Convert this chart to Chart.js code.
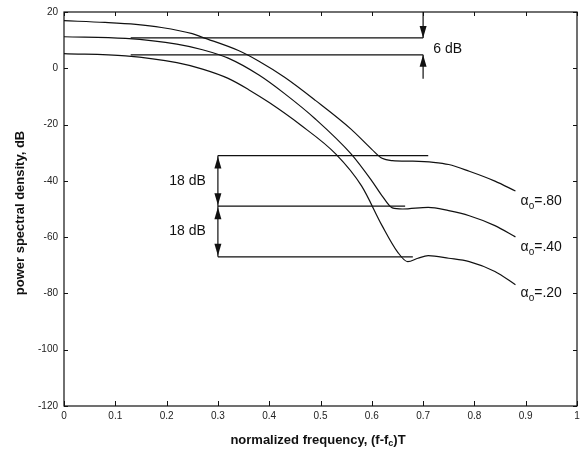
<!DOCTYPE html>
<html>
<head>
<meta charset="utf-8">
<script src="https://cdn.jsdelivr.net/npm/chart.js@4"></script>
<style>
html, body { margin: 0; padding: 0; background: #fff; }
</style>
</head>
<body>
<canvas id="grafico-psd" width="585" height="459"></canvas>
<script>
// DADOS
var freqA80 = [0, 0.08, 0.14, 0.19, 0.25, 0.27, 0.34, 0.38, 0.43, 0.49, 0.56, 0.60, 0.62, 0.64, 0.68, 0.72, 0.75, 0.79, 0.84, 0.88];
var psdA80  = [16.9, 16.3, 15.6, 14.5, 12.3, 11.0, 6.3, 2.5, -3.2, -11.4, -21.7, -28.8, -32.0, -32.8, -33.0, -33.4, -34.2, -36.6, -40.1, -43.6];

var freqA40 = [0, 0.12, 0.22, 0.27, 0.32, 0.38, 0.43, 0.49, 0.56, 0.60, 0.62, 0.64, 0.66, 0.71, 0.75, 0.79, 0.84, 0.88];
var psdA40  = [11.2, 10.6, 8.6, 6.6, 3.6, -2.4, -9.0, -18.0, -30.5, -40.0, -45.3, -49.6, -50.0, -49.4, -50.6, -52.4, -55.9, -59.9];

var freqA20 = [0, 0.12, 0.22, 0.27, 0.32, 0.36, 0.40, 0.46, 0.53, 0.58, 0.62, 0.65, 0.67, 0.69, 0.71, 0.75, 0.79, 0.84, 0.88];
var psdA20  = [5.2, 4.4, 2.0, -0.3, -3.6, -7.6, -12.2, -20.0, -30.5, -41.8, -55.9, -65.2, -68.7, -67.5, -66.6, -67.5, -68.7, -72.2, -76.9];

var xTicks = [0, 0.1, 0.2, 0.3, 0.4, 0.5, 0.6, 0.7, 0.8, 0.9, 1];
var xTickLabels = ['0', '0.1', '0.2', '0.3', '0.4', '0.5', '0.6', '0.7', '0.8', '0.9', '1'];
var yTicks = [20, 0, -20, -40, -60, -80, -100, -120];

// niveis de referencia (dB) e extensao (frequencia)
var nivel6dB = [10.8, 4.8];
var inicio6dB = 0.13, fim6dB = 0.70, seta6dBBase = -3.7;
var nivel18dB = [-31, -49, -67];
var inicio18dB = 0.30;
var fim18dB = [0.71, 0.665, 0.68];

var rotulosAlpha = ['=.80', '=.40', '=.20'];
var rotuloAlphaNivel = [-47.1, -63.5, -79.8];

function pontos(xs, ys) {
    return xs.map(function(x, i) { return { x: x, y: ys[i] }; });
}

function serie(label, xs, ys) {
    return {
        label: label,
        data: pontos(xs, ys),
        borderColor: '#111',
        borderWidth: 1.2,
        pointRadius: 0,
        fill: false,
        cubicInterpolationMode: 'monotone'
    };
}

function seta(ctx, x, yTip, dir) {
    // dir = 1 aponta para baixo, -1 para cima
    ctx.beginPath();
    ctx.moveTo(x, yTip);
    ctx.lineTo(x - 3.5, yTip - dir * 12);
    ctx.lineTo(x + 3.5, yTip - dir * 12);
    ctx.closePath();
    ctx.fill();
}

function textoAlpha(ctx, x, y, resto) {
    ctx.font = '14px "Liberation Sans", Arial, sans-serif';
    ctx.textAlign = 'left';
    ctx.textBaseline = 'middle';
    ctx.fillText('\u03B1', x, y);
    var w = ctx.measureText('\u03B1').width;
    ctx.font = '10px "Liberation Sans", Arial, sans-serif';
    ctx.fillText('o', x + w, y + 5);
    var w2 = ctx.measureText('o').width;
    ctx.font = '14px "Liberation Sans", Arial, sans-serif';
    ctx.fillText(resto, x + w + w2, y);
}

var anotacoes = {
    id: 'anotacoes',
    afterDatasetsDraw: function(chart) {
        var ctx = chart.ctx;
        var xs = chart.scales.x, ys = chart.scales.y;
        var a = chart.chartArea;
        ctx.save();
        ctx.strokeStyle = '#111';
        ctx.fillStyle = '#111';

        // moldura
        ctx.lineWidth = 1.2;
        ctx.strokeRect(a.left, a.top, a.right - a.left, a.bottom - a.top);

        // marcas internas
        ctx.lineWidth = 1;
        ctx.beginPath();
        xTicks.forEach(function(v) {
            var px = Math.round(xs.getPixelForValue(v)) + 0.5;
            ctx.moveTo(px, a.bottom); ctx.lineTo(px, a.bottom - 5);
            ctx.moveTo(px, a.top); ctx.lineTo(px, a.top + 4);
        });
        yTicks.forEach(function(v) {
            var py = Math.round(ys.getPixelForValue(v)) + 0.5;
            ctx.moveTo(a.left, py); ctx.lineTo(a.left + 4, py);
            ctx.moveTo(a.right, py); ctx.lineTo(a.right - 4, py);
        });
        ctx.stroke();

        // linhas 6 dB
        ctx.lineWidth = 1.2;
        ctx.beginPath();
        nivel6dB.forEach(function(v) {
            var py = ys.getPixelForValue(v);
            ctx.moveTo(xs.getPixelForValue(inicio6dB), py);
            ctx.lineTo(xs.getPixelForValue(fim6dB), py);
        });
        var xSeta = xs.getPixelForValue(fim6dB);
        ctx.moveTo(xSeta, a.top);
        ctx.lineTo(xSeta, ys.getPixelForValue(nivel6dB[0]));
        ctx.moveTo(xSeta, ys.getPixelForValue(seta6dBBase));
        ctx.lineTo(xSeta, ys.getPixelForValue(nivel6dB[1]));
        ctx.stroke();
        seta(ctx, xSeta, ys.getPixelForValue(nivel6dB[0]), 1);
        seta(ctx, xSeta, ys.getPixelForValue(nivel6dB[1]), -1);

        // linhas 18 dB
        ctx.beginPath();
        nivel18dB.forEach(function(v, i) {
            var py = ys.getPixelForValue(v);
            ctx.moveTo(xs.getPixelForValue(inicio18dB), py);
            ctx.lineTo(xs.getPixelForValue(fim18dB[i]), py);
        });
        var x18 = xs.getPixelForValue(inicio18dB);
        ctx.moveTo(x18, ys.getPixelForValue(nivel18dB[0]));
        ctx.lineTo(x18, ys.getPixelForValue(nivel18dB[2]));
        ctx.stroke();
        for (var i = 0; i < 2; i++) {
            seta(ctx, x18, ys.getPixelForValue(nivel18dB[i]) + 1, -1);
            seta(ctx, x18, ys.getPixelForValue(nivel18dB[i + 1]) - 1, 1);
        }

        // rotulos
        ctx.font = '14px "Liberation Sans", Arial, sans-serif';
        ctx.textBaseline = 'middle';
        ctx.textAlign = 'left';
        ctx.fillText('6 dB', xs.getPixelForValue(0.72), ys.getPixelForValue(6.8));
        ctx.textAlign = 'right';
        ctx.fillText('18 dB', x18 - 12, (ys.getPixelForValue(nivel18dB[0]) + ys.getPixelForValue(nivel18dB[1])) / 2);
        ctx.fillText('18 dB', x18 - 12, (ys.getPixelForValue(nivel18dB[1]) + ys.getPixelForValue(nivel18dB[2])) / 2);

        rotulosAlpha.forEach(function(t, i) {
            textoAlpha(ctx, xs.getPixelForValue(0.89), ys.getPixelForValue(rotuloAlphaNivel[i]), t);
        });

        // titulos dos eixos
        ctx.font = 'bold 13px "Liberation Sans", Arial, sans-serif';
        ctx.textAlign = 'center';
        ctx.textBaseline = 'middle';
        ctx.save();
        ctx.translate(20, 213);
        ctx.rotate(-Math.PI / 2);
        ctx.fillText('power spectral density, dB', 0, 0);
        ctx.restore();

        var p1 = 'normalized frequency, (f-f', p2 = 'c', p3 = ')T';
        ctx.font = 'bold 13px "Liberation Sans", Arial, sans-serif';
        var w1 = ctx.measureText(p1).width, w3 = ctx.measureText(p3).width;
        ctx.font = 'bold 9px "Liberation Sans", Arial, sans-serif';
        var w2 = ctx.measureText(p2).width;
        var x0 = 318 - (w1 + w2 + w3) / 2, yT = 440;
        ctx.textAlign = 'left';
        ctx.font = 'bold 13px "Liberation Sans", Arial, sans-serif';
        ctx.fillText(p1, x0, yT);
        ctx.font = 'bold 9px "Liberation Sans", Arial, sans-serif';
        ctx.fillText(p2, x0 + w1, yT + 4);
        ctx.font = 'bold 13px "Liberation Sans", Arial, sans-serif';
        ctx.fillText(p3, x0 + w1 + w2, yT);
        ctx.restore();
    }
};

var graficoPsdCtx = document.getElementById('grafico-psd').getContext('2d');

var graficoPsd = new Chart(graficoPsdCtx, {
    type: 'line',
    data: {
        datasets: [
            serie('\u03B1o=.80', freqA80, psdA80),
            serie('\u03B1o=.40', freqA40, psdA40),
            serie('\u03B1o=.20', freqA20, psdA20)
        ]
    },
    options: {
        responsive: false,
        animation: false,
        layout: { padding: { left: 0, right: 8, top: 10, bottom: 0 } },
        plugins: {
            legend: { display: false },
            tooltip: { enabled: false }
        },
        scales: {
            x: {
                type: 'linear',
                min: 0,
                max: 1,
                grid: { display: false, drawTicks: false },
                border: { display: false },
                afterBuildTicks: function(scale) {
                    scale.ticks = xTicks.map(function(v) { return { value: v }; });
                },
                afterFit: function(scale) { scale.height = 53; },
                ticks: {
                    autoSkip: false,
                    maxRotation: 0,
                    padding: 4,
                    color: '#222',
                    font: { family: '"Liberation Sans", Arial, sans-serif', size: 10 },
                    callback: function(v, i) { return xTickLabels[i]; }
                }
            },
            y: {
                type: 'linear',
                min: -120,
                max: 20,
                grid: { display: false, drawTicks: false },
                border: { display: false },
                afterBuildTicks: function(scale) {
                    scale.ticks = yTicks.map(function(v) { return { value: v }; });
                },
                afterFit: function(scale) { scale.width = 64; },
                ticks: {
                    padding: 6,
                    color: '#222',
                    font: { family: '"Liberation Sans", Arial, sans-serif', size: 10 }
                }
            }
        }
    },
    plugins: [anotacoes]
});
</script>
</body>
</html>
